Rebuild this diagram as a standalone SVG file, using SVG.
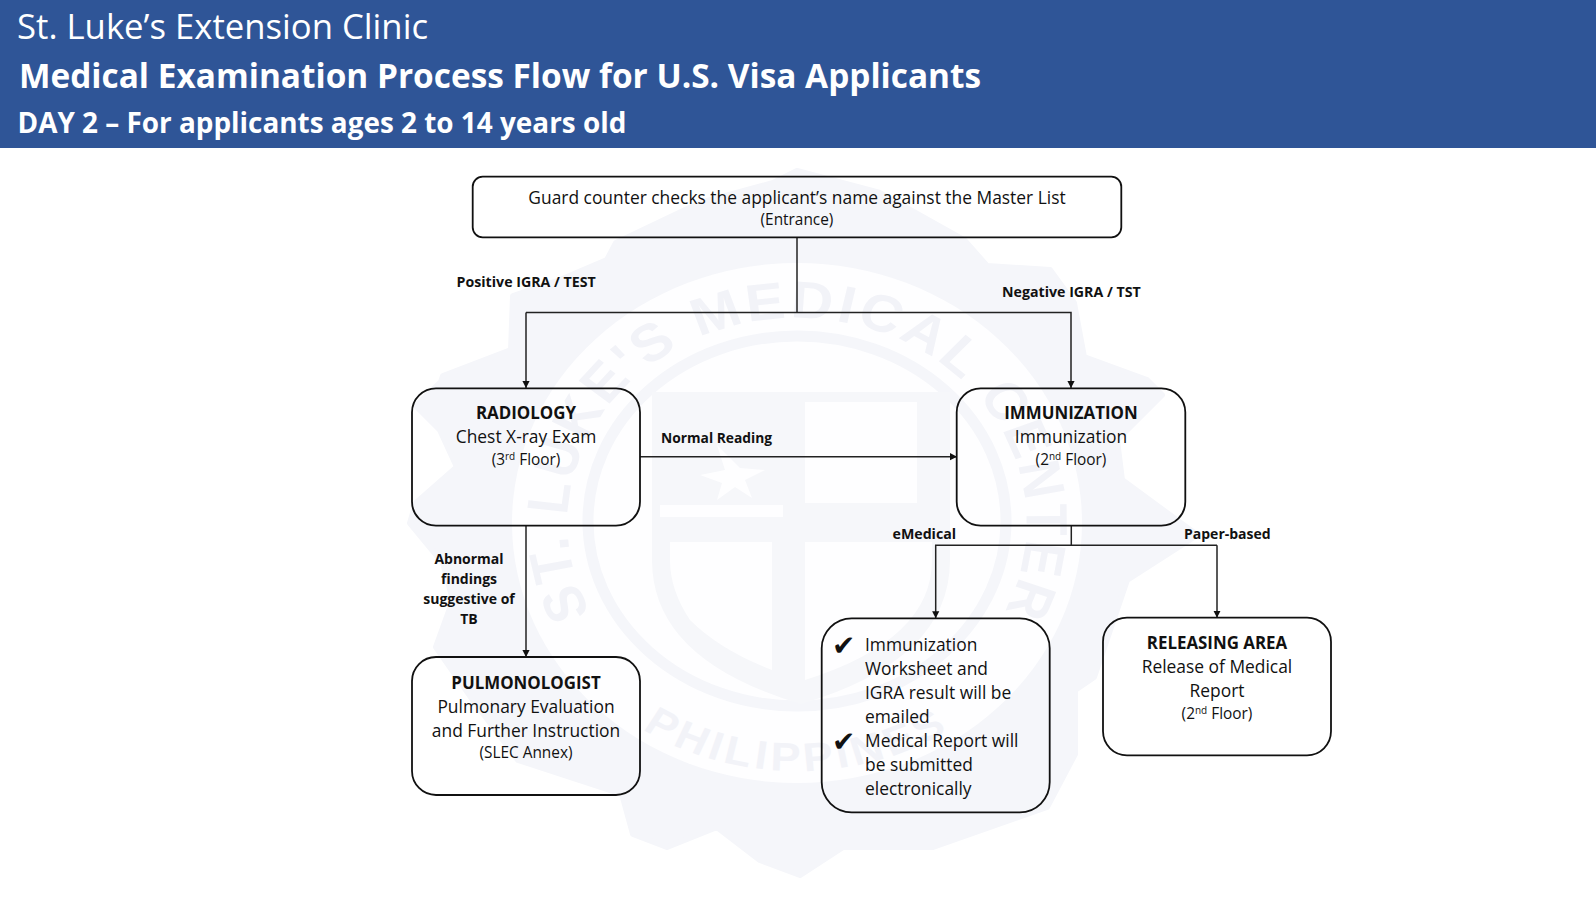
<svg xmlns="http://www.w3.org/2000/svg" width="1596" height="898" viewBox="0 0 1596 898">
<style>
text{font-family:"Open Sans","Noto Sans",sans-serif;fill:#111}
.c{text-anchor:middle}
.t{font-size:17.4px}
.h{font-size:16.9px;font-weight:700}
.s{font-size:15.4px}
.l{font-size:14px;font-weight:700}
.l2{font-size:14.2px;font-weight:700}
.box{fill:none;stroke:#111;stroke-width:1.8}
.ln{fill:none;stroke:#222;stroke-width:1.5}
.hd{fill:#fff}
.wm{font-family:"Liberation Sans",sans-serif;font-weight:700;fill:#f2f3f8}
.ck{font-family:"DejaVu Sans",sans-serif;font-size:28px}
</style>
<defs>
<marker id="a" markerUnits="userSpaceOnUse" markerWidth="8" markerHeight="8" refX="7" refY="4" orient="auto"><path d="M0,0.4L7,4L0,7.6z" fill="#111"/></marker>
<path id="arcT" d="M0,205A205,205 0 1 1 0,-205A205,205 0 1 1 0,205"/>
<path id="arcB" d="M-248,0A248,248 0 0 0 248,0"/>
</defs>
<rect width="1596" height="898" fill="#fff"/>
<g id="watermark">
<path fill="#f5f6fa" stroke="#f5f6fa" stroke-width="6" stroke-linejoin="round" d="M797,171L773,183L700,203L616,243L607,260L560,280L513,296L511,350L443,376L435,400L440,383L416,406L440,430L457,467L416,503L410,523L443,563L453,600L436,647L473,700L518,760L622,794L633,834L667,847L717,827L760,860L800,875L843,847L933,847L1047,807L1075,754L1075,690L1094,677L1127,580L1197,535L1122,480L1117,440L1162,395L1147,380L1084,357L1074,303L1050,270L987,266L964,240L880,193Z"/>
<ellipse cx="797" cy="523" rx="285" ry="260" fill="#fefeff"/>
<ellipse cx="797" cy="521" rx="209" ry="185" fill="none" stroke="#f5f6fa" stroke-width="11"/>
<path fill="#f6f7fa" d="M652,392H950V560Q950,660 801,704Q652,660 652,560Z"/>
<path fill="#fefeff" d="M805,402H917V503H805ZM670,542H772V670Q720,650 690,620Q670,590 670,560ZM805,542H932V560Q932,640 805,680ZM763,400H783V505H660V517H783V400Z"/>
<path fill="#fefeff" d="M717,445L725,470L700,475L722,483L717,500L735,487L752,498L745,480L765,470L740,468Z"/>
<g transform="translate(797,523) scale(1.12,1)">
<text class="wm" font-size="52" letter-spacing="3" text-anchor="middle"><textPath href="#arcT" startOffset="50%">ST. LUKE'S MEDICAL CENTER</textPath></text>
<text class="wm" font-size="40" letter-spacing="4" text-anchor="middle"><textPath href="#arcB" startOffset="50%">PHILIPPINES</textPath></text>
</g>
</g>
<g id="header">
<rect width="1596" height="148" fill="#2f5597"/>
<text class="hd" x="17" y="38.5" font-size="34.7">St. Luke’s Extension Clinic</text>
<text class="hd" x="19" y="87.5" font-size="33.4" font-weight="700">Medical Examination Process Flow for U.S. Visa Applicants</text>
<text class="hd" x="17.5" y="132.5" font-size="27.9" font-weight="700">DAY 2 – For applicants ages 2 to 14 years old</text>
</g>
<g id="connectors">
<path class="ln" d="M797,237V312.5"/>
<path class="ln" d="M526,312.5H1071V388" marker-end="url(#a)"/>
<path class="ln" d="M526,312.5V388" marker-end="url(#a)"/>
<path class="ln" d="M640,456.7H957" marker-end="url(#a)"/>
<path class="ln" d="M526,525.7V657" marker-end="url(#a)"/>
<path class="ln" d="M1071.3,525.7V545.3"/>
<path class="ln" d="M1217,545.3H935.7V618.3" marker-end="url(#a)"/>
<path class="ln" d="M1217,545.3V617.7" marker-end="url(#a)"/>
</g>
<g id="edge-labels">
<text class="l2" x="456.5" y="287">Positive IGRA / TEST</text>
<text class="l2" x="1002" y="297">Negative IGRA / TST</text>
<text class="l" x="661" y="443" style="font-size:13.8px">Normal Reading</text>
<text class="l c" x="469" y="564">Abnormal</text>
<text class="l c" x="469" y="584">findings</text>
<text class="l c" x="469" y="604">suggestive of</text>
<text class="l c" x="469" y="624">TB</text>
<text class="l2" x="892.5" y="539">eMedical</text>
<text class="l" x="1184" y="539">Paper-based</text>
</g>
<g id="guard">
<rect class="box" x="472.7" y="176.7" width="648.6" height="60.6" rx="10"/>
<text class="t c" x="797" y="204">Guard counter checks the applicant’s name against the Master List</text>
<text class="s c" x="797" y="225">(Entrance)</text>
</g>
<g id="radiology">
<rect class="box" x="412" y="388.3" width="228" height="137.4" rx="24"/>
<text class="h c" x="526" y="419">RADIOLOGY</text>
<text class="t c" x="526" y="443">Chest X-ray Exam</text>
<text class="s c" x="526" y="465">(3<tspan font-size="10" dy="-5">rd</tspan><tspan dy="5"> Floor)</tspan></text>
</g>
<g id="immunization">
<rect class="box" x="956.7" y="388.3" width="228.6" height="137.4" rx="24"/>
<text class="h c" x="1071" y="419">IMMUNIZATION</text>
<text class="t c" x="1071" y="443">Immunization</text>
<text class="s c" x="1071" y="465">(2<tspan font-size="10" dy="-5">nd</tspan><tspan dy="5"> Floor)</tspan></text>
</g>
<g id="pulmonologist">
<rect class="box" x="412" y="657" width="228" height="138" rx="24"/>
<text class="h c" x="526" y="689">PULMONOLOGIST</text>
<text class="t c" x="526" y="713">Pulmonary Evaluation</text>
<text class="t c" x="526" y="737">and Further Instruction</text>
<text class="s c" x="526" y="758">(SLEC Annex)</text>
</g>
<g id="emedical">
<rect class="box" x="821.7" y="618.3" width="228" height="194" rx="30"/>
<text class="ck" x="832" y="655">✔</text>
<text class="t" x="865" y="651">Immunization</text>
<text class="t" x="865" y="675">Worksheet and</text>
<text class="t" x="865" y="699">IGRA result will be</text>
<text class="t" x="865" y="723">emailed</text>
<text class="ck" x="832" y="751">✔</text>
<text class="t" x="865" y="747">Medical Report will</text>
<text class="t" x="865" y="771">be submitted</text>
<text class="t" x="865" y="795">electronically</text>
</g>
<g id="releasing">
<rect class="box" x="1103" y="617.7" width="228" height="137.6" rx="24"/>
<text class="h c" x="1217" y="649">RELEASING AREA</text>
<text class="t c" x="1217" y="673">Release of Medical</text>
<text class="t c" x="1217" y="697">Report</text>
<text class="s c" x="1217" y="719">(2<tspan font-size="10" dy="-5">nd</tspan><tspan dy="5"> Floor)</tspan></text>
</g>
</svg>
